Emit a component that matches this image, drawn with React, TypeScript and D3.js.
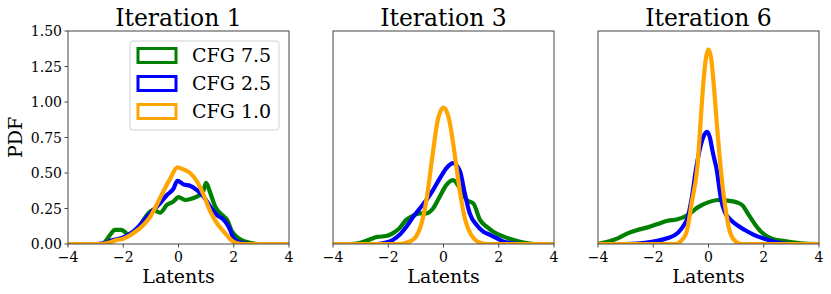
import React from "react";
import * as d3 from "d3";

// canvas + shared layout
const W = 831, H = 294;
const panelLefts = [68, 333, 598];
const panelW = 221;
const top = 31, bottom = 244;
const font = "DejaVu Serif, serif";

const titles = ["Iteration 1", "Iteration 3", "Iteration 6"];
const xTicks = [-4, -2, 0, 2, 4];
const yTicks = [0, 0.25, 0.5, 0.75, 1.0, 1.25, 1.5];
const seriesNames = ["CFG 7.5", "CFG 2.5", "CFG 1.0"];
const seriesColors = ["green", "blue", "orange"];

// iteration 1 densities, [latent, pdf]
const it1Cfg75: [number, number][] = [
  [-4, 0], [-2.9, 0], [-2.73, 0.005], [-2.6, 0.03], [-2.48, 0.063], [-2.3, 0.1], [-2.06, 0.1],
  [-1.82, 0.07], [-1.58, 0.087], [-1.33, 0.15], [-1.09, 0.216], [-0.91, 0.24], [-0.67, 0.22],
  [-0.42, 0.275], [-0.18, 0.3], [0, 0.33], [0.24, 0.31], [0.48, 0.32], [0.73, 0.34],
  [0.91, 0.38], [1.0, 0.43], [1.15, 0.36], [1.33, 0.263], [1.58, 0.204], [1.76, 0.17],
  [1.94, 0.087], [2.18, 0.04], [2.55, 0.01], [3.0, 0], [4, 0],
];
const it1Cfg25: [number, number][] = [
  [-4, 0], [-3.0, 0], [-2.7, 0.005], [-2.5, 0.02], [-2.0, 0.047], [-1.64, 0.087], [-1.39, 0.134],
  [-1.15, 0.19], [-0.91, 0.24], [-0.67, 0.286], [-0.42, 0.345], [-0.18, 0.39], [-0.04, 0.445],
  [0.18, 0.42], [0.42, 0.41], [0.67, 0.38], [0.91, 0.333], [1.15, 0.263], [1.39, 0.204],
  [1.64, 0.17], [1.82, 0.12], [2.0, 0.04], [2.24, 0.01], [2.6, 0], [4, 0],
];
const it1Cfg10: [number, number][] = [
  [-4, 0], [-2.8, 0], [-2.5, 0.01], [-2.24, 0.028], [-2.0, 0.037], [-1.64, 0.075], [-1.27, 0.134],
  [-1.03, 0.19], [-0.79, 0.275], [-0.55, 0.37], [-0.3, 0.46], [-0.04, 0.54], [0.18, 0.525],
  [0.42, 0.5], [0.67, 0.44], [0.91, 0.345], [1.15, 0.23], [1.39, 0.146], [1.64, 0.087],
  [1.88, 0.033], [2.12, 0.005], [2.4, 0], [4, 0],
];

// iteration 3
const it3Cfg75: [number, number][] = [
  [-4, 0], [-3.4, 0], [-3.05, 0.007], [-2.7, 0.03], [-2.4, 0.05], [-2.08, 0.056], [-1.84, 0.075],
  [-1.6, 0.11], [-1.35, 0.17], [-1.1, 0.2], [-0.86, 0.216], [-0.62, 0.216], [-0.38, 0.25],
  [-0.14, 0.333], [0.1, 0.415], [0.35, 0.45], [0.6, 0.39], [0.84, 0.31], [1.08, 0.286],
  [1.32, 0.17], [1.56, 0.122], [1.8, 0.087], [2.18, 0.052], [2.54, 0.028], [2.9, 0.01],
  [3.3, 0], [4, 0],
];
const it3Cfg25: [number, number][] = [
  [-4, 0], [-2.4, 0], [-2.08, 0.01], [-1.84, 0.028], [-1.6, 0.063], [-1.35, 0.12], [-1.1, 0.19],
  [-0.86, 0.25], [-0.62, 0.31], [-0.38, 0.38], [-0.14, 0.46], [0.1, 0.533], [0.35, 0.57],
  [0.6, 0.51], [0.77, 0.357], [0.95, 0.216], [1.2, 0.134], [1.44, 0.087], [1.7, 0.063],
  [1.94, 0.04], [2.18, 0.016], [2.5, 0.005], [2.8, 0], [4, 0],
];
const it3Cfg10: [number, number][] = [
  [-4, 0], [-1.6, 0], [-1.4, 0.005], [-1.2, 0.02], [-1.0, 0.05], [-0.8, 0.14], [-0.6, 0.33],
  [-0.4, 0.62], [-0.2, 0.88], [0, 0.96], [0.2, 0.88], [0.4, 0.64], [0.6, 0.36], [0.8, 0.16],
  [1.0, 0.065], [1.2, 0.02], [1.4, 0.005], [1.6, 0], [4, 0],
];

// iteration 6
const it6Cfg75: [number, number][] = [
  [-4, 0], [-3.77, 0.01], [-3.29, 0.04], [-2.93, 0.075], [-2.57, 0.099], [-2.2, 0.117],
  [-1.84, 0.141], [-1.48, 0.164], [-1.12, 0.174], [-0.75, 0.204], [-0.39, 0.258],
  [-0.02, 0.293], [0.34, 0.31], [0.7, 0.305], [1.06, 0.291], [1.24, 0.27], [1.42, 0.216],
  [1.66, 0.145], [1.9, 0.087], [2.27, 0.04], [2.75, 0.02], [3.35, 0.005], [4, 0],
];
const it6Cfg25: [number, number][] = [
  [-4, 0], [-3.0, 0], [-2.6, 0.003], [-2.0, 0.018], [-1.5, 0.04], [-1.1, 0.08], [-0.9, 0.13],
  [-0.75, 0.19], [-0.6, 0.33], [-0.45, 0.53], [-0.3, 0.68], [-0.15, 0.77], [-0.05, 0.79],
  [0.05, 0.75], [0.15, 0.65], [0.3, 0.52], [0.45, 0.32], [0.6, 0.22], [0.75, 0.18],
  [0.95, 0.145], [1.3, 0.1], [1.66, 0.063], [2.14, 0.03], [2.5, 0.01], [3.0, 0], [4, 0],
];
const it6Cfg10: [number, number][] = [
  [-4, 0], [-1.2, 0], [-1.0, 0.02], [-0.8, 0.08], [-0.6, 0.3], [-0.4, 0.55], [-0.3, 0.82],
  [-0.2, 1.1], [-0.1, 1.3], [0, 1.37], [0.1, 1.3], [0.2, 1.1], [0.3, 0.85], [0.4, 0.62],
  [0.6, 0.27], [0.8, 0.07], [1.0, 0.015], [1.2, 0], [4, 0],
];

const panels = [
  [it1Cfg75, it1Cfg25, it1Cfg10],
  [it3Cfg75, it3Cfg25, it3Cfg10],
  [it6Cfg75, it6Cfg25, it6Cfg10],
];

const fmtMinus = (v: number) => (v < 0 ? "\u2212" + Math.abs(v) : String(v));

const y = d3.scaleLinear().domain([0, 1.5]).range([bottom, top]);

const Panel = ({ idx }: { idx: number }) => {
  const left = panelLefts[idx];
  const x = d3.scaleLinear().domain([-4, 4]).range([left, left + panelW]);
  const lineGen = d3
    .line<[number, number]>()
    .x((d) => x(d[0]))
    .y((d) => y(d[1]))
    .curve(d3.curveMonotoneX);
  const cx = left + panelW / 2;
  return (
    <g>
      <clipPath id={"clip" + idx}>
        <rect x={left} y={top} width={panelW} height={bottom - top} />
      </clipPath>
      <g clipPath={`url(#clip${idx})`}>
        {panels[idx].map((s, i) => (
          <path
            key={i}
            d={lineGen(s) || ""}
            fill="none"
            stroke={seriesColors[i]}
            strokeWidth={4.2}
            strokeLinejoin="round"
          />
        ))}
      </g>
      <rect x={left} y={top} width={panelW} height={bottom - top} fill="none" stroke="#444" strokeWidth={1} />
      {xTicks.map((t) => (
        <g key={t}>
          <line x1={x(t)} x2={x(t)} y1={bottom} y2={bottom + 3.5} stroke="#444" />
          <text x={x(t)} y={262} textAnchor="middle" fontSize={14} fontFamily={font}>
            {fmtMinus(t)}
          </text>
        </g>
      ))}
      {idx === 0 &&
        yTicks.map((t) => (
          <g key={t}>
            <line x1={left - 3.5} x2={left} y1={y(t)} y2={y(t)} stroke="#444" />
            <text x={left - 6} y={y(t)} dy="0.36em" textAnchor="end" fontSize={14} fontFamily={font}>
              {t.toFixed(2)}
            </text>
          </g>
        ))}
      <text x={cx} y={26} textAnchor="middle" fontSize={23.5} fontFamily={font}>
        {titles[idx]}
      </text>
      <text x={cx} y={283} textAnchor="middle" fontSize={19} fontFamily={font}>
        Latents
      </text>
    </g>
  );
};

const Legend = () => {
  const lx = 130, ly = 41;
  return (
    <g>
      <rect x={lx} y={ly} width={149} height={89} rx={3} fill="white" fillOpacity={0.85} stroke="#d0d0d0" />
      {seriesNames.map((n, i) => {
        const cy = 55.5 + i * 28;
        return (
          <g key={n}>
            <rect x={138} y={cy - 7} width={38} height={14} fill="none" stroke={seriesColors[i]} strokeWidth={3} />
            <text x={192} y={cy} dy="0.36em" fontSize={19} fontFamily={font}>
              {n}
            </text>
          </g>
        );
      })}
    </g>
  );
};

export default function App() {
  return (
    <svg
      width={W}
      height={H}
      style={{ position: "absolute", left: 0, top: 0, background: "white" }}
    >
      {[0, 1, 2].map((i) => (
        <Panel key={i} idx={i} />
      ))}
      <Legend />
      <text
        transform={`translate(22, ${(top + bottom) / 2}) rotate(-90)`}
        textAnchor="middle"
        fontSize={19}
        fontFamily={font}
      >
        PDF
      </text>
    </svg>
  );
}
